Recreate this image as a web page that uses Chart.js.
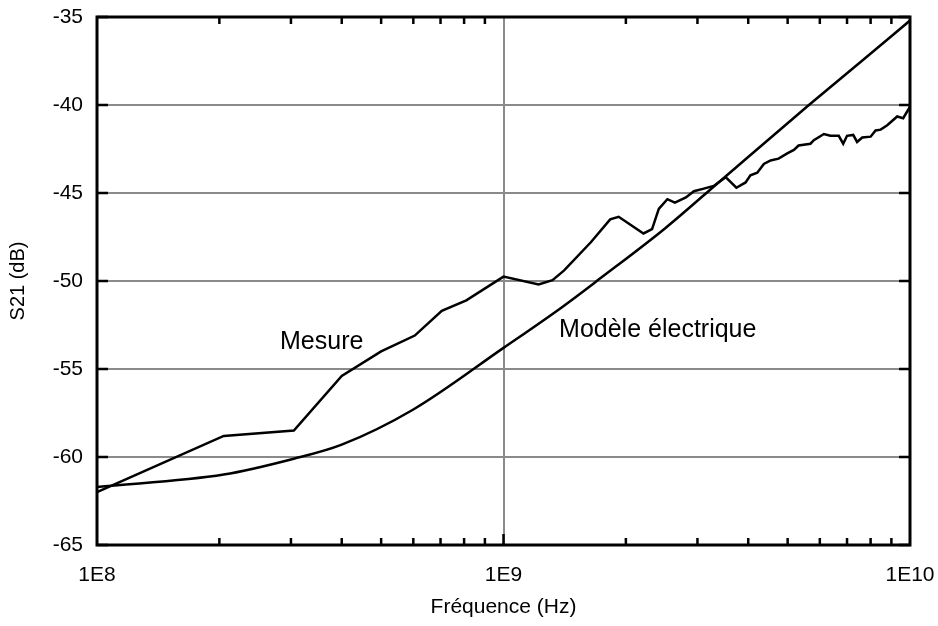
<!DOCTYPE html>
<html>
<head>
<meta charset="utf-8">
<script src="https://cdn.jsdelivr.net/npm/chart.js@4/dist/chart.umd.min.js"></script>
<style>
  html, body { margin: 0; padding: 0; background: #fff; }
  #wrap { width: 938px; height: 626px; }
</style>
</head>
<body>
<div id="wrap"><canvas id="myChart" width="938" height="626"></canvas></div>
<script>
// measured curve (Hz, dB)
var freqMesure = [1e8, 2.05e8, 3.05e8, 4.0e8, 5.0e8, 6.05e8, 7.05e8, 8.1e8, 1.0e9,
    1.22e9, 1.32e9, 1.41e9, 1.64e9, 1.83e9, 1.92e9, 2.21e9, 2.32e9, 2.41e9, 2.53e9,
    2.64e9, 2.81e9, 2.94e9, 3.11e9, 3.29e9, 3.52e9, 3.74e9, 3.94e9, 4.05e9, 4.21e9,
    4.37e9, 4.54e9, 4.75e9, 4.99e9, 5.18e9, 5.32e9, 5.69e9, 5.80e9, 6.14e9, 6.37e9,
    6.68e9, 6.85e9, 7.0e9, 7.25e9, 7.41e9, 7.63e9, 8.0e9, 8.23e9, 8.47e9, 8.79e9,
    9.30e9, 9.62e9, 1.0e10];
var s21Mesure = [-62.0, -58.8, -58.5, -55.4, -54.0, -53.1, -51.7, -51.1, -49.75,
    -50.2, -49.95, -49.4, -47.8, -46.5, -46.35, -47.3, -47.05, -45.9, -45.35,
    -45.55, -45.25, -44.9, -44.75, -44.6, -44.1, -44.7, -44.4, -44.0, -43.85,
    -43.35, -43.15, -43.05, -42.75, -42.55, -42.3, -42.2, -42.0, -41.65, -41.75,
    -41.75, -42.2, -41.75, -41.7, -42.1, -41.85, -41.8, -41.45, -41.4, -41.15,
    -40.65, -40.75, -40.1];

// electrical model
var freqModele = [1e8, 2.05e8, 3.05e8, 4.0e8, 6.0e8, 1.0e9, 1.39e9, 1.73e9, 2.5e9,
    3.42e9, 5.64e9, 7.7e9, 1.0e10];
var s21Modele = [-61.7, -61.0, -60.1, -59.3, -57.3, -53.8, -51.5, -49.85, -47.0,
    -44.3, -40.0, -37.4, -35.2];

// axes
var yTicks = [-65, -60, -55, -50, -45, -40, -35];
var xMajor = [1e8, 1e9, 1e10];
var xLabels = ["1E8", "1E9", "1E10"];
var xMinor = [2e8, 3e8, 4e8, 5e8, 6e8, 7e8, 8e8, 9e8, 2e9, 3e9, 4e9, 5e9, 6e9, 7e9, 8e9, 9e9];

var FONT = "'Liberation Sans', Arial, sans-serif";
var GRID = "#8a8a8a";

function toPoints(xs, ys) {
    var pts = [];
    for (var i = 0; i < xs.length; i++) {
        pts.push({x: xs[i], y: ys[i]});
    }
    return pts;
}

// frame, inner ticks and curve labels
var framePlugin = {
    id: "frame",
    afterDraw: function (chart) {
        var ctx = chart.ctx;
        var a = chart.chartArea;
        var xs = chart.scales.x;
        var ys = chart.scales.y;
        ctx.save();
        ctx.strokeStyle = "#000";
        ctx.lineWidth = 2.5;
        ctx.beginPath();
        yTicks.forEach(function (v) {
            var py = ys.getPixelForValue(v);
            ctx.moveTo(a.left, py); ctx.lineTo(a.left + 11, py);
            ctx.moveTo(a.right, py); ctx.lineTo(a.right - 11, py);
        });
        xMinor.forEach(function (v) {
            var px = xs.getPixelForValue(v);
            ctx.moveTo(px, a.bottom); ctx.lineTo(px, a.bottom - 7);
            ctx.moveTo(px, a.top); ctx.lineTo(px, a.top + 7);
        });
        var pm = xs.getPixelForValue(1e9);
        ctx.moveTo(pm, a.bottom); ctx.lineTo(pm, a.bottom - 11);
        ctx.stroke();
        ctx.lineWidth = 3;
        ctx.strokeRect(a.left, a.top, a.right - a.left, a.bottom - a.top);

        ctx.fillStyle = "#000";
        ctx.font = "25px " + FONT;
        ctx.textBaseline = "middle";
        ctx.textAlign = "left";
        ctx.fillText("Mesure", xs.getPixelForValue(2.82e8), ys.getPixelForValue(-53.5));
        ctx.fillText("Modèle électrique", xs.getPixelForValue(1.37e9), ys.getPixelForValue(-52.8));
        ctx.restore();
    }
};

var canvas = document.getElementById("myChart");
var myChart = new Chart(canvas.getContext("2d"), {
    type: "line",
    data: {
        datasets: [{
            label: "Mesure",
            data: toPoints(freqMesure, s21Mesure),
            borderColor: "#000",
            borderWidth: 2.5,
            pointRadius: 0,
            tension: 0
        }, {
            label: "Modèle électrique",
            data: toPoints(freqModele, s21Modele),
            borderColor: "#000",
            borderWidth: 2.5,
            pointRadius: 0,
            cubicInterpolationMode: "monotone"
        }]
    },
    options: {
        responsive: false,
        animation: false,
        layout: {padding: {left: 0, right: 28, top: 17, bottom: 0}},
        plugins: {legend: {display: false}, tooltip: {enabled: false}},
        scales: {
            x: {
                type: "logarithmic",
                min: 1e8,
                max: 1e10,
                afterBuildTicks: function (scale) {
                    var t = [];
                    xMajor.forEach(function (v) { t.push({value: v}); });
                    scale.ticks = t;
                },
                afterFit: function (scale) {
                    scale.height = 81;
                    scale.paddingLeft = 0;
                    scale.paddingRight = 0;
                },
                border: {display: false},
                grid: {
                    drawTicks: false,
                    lineWidth: 2,
                    color: function (c) {
                        return c.tick && c.tick.value === 1e9 ? GRID : "rgba(0,0,0,0)";
                    }
                },
                ticks: {
                    autoSkip: false,
                    maxRotation: 0,
                    padding: 18,
                    color: "#000",
                    font: {family: FONT, size: 21},
                    callback: function (v) {
                        var i = xMajor.indexOf(v);
                        return i >= 0 ? xLabels[i] : "";
                    }
                },
                title: {
                    display: true,
                    text: "Fréquence (Hz)",
                    color: "#000",
                    font: {family: FONT, size: 21},
                    padding: {top: 0, bottom: 6}
                }
            },
            y: {
                min: -65,
                max: -35,
                afterBuildTicks: function (scale) {
                    scale.ticks = yTicks.map(function (v) { return {value: v}; });
                },
                afterFit: function (scale) {
                    scale.width = 97;
                    scale.paddingTop = 0;
                    scale.paddingBottom = 0;
                },
                border: {display: false},
                grid: {drawTicks: false, lineWidth: 2, color: GRID},
                ticks: {
                    padding: 14,
                    color: "#000",
                    font: {family: FONT, size: 21}
                },
                title: {
                    display: true,
                    text: "S21 (dB)",
                    color: "#000",
                    font: {family: FONT, size: 20},
                    padding: {top: 6, bottom: 0}
                }
            }
        }
    },
    plugins: [framePlugin]
});
</script>
</body>
</html>
